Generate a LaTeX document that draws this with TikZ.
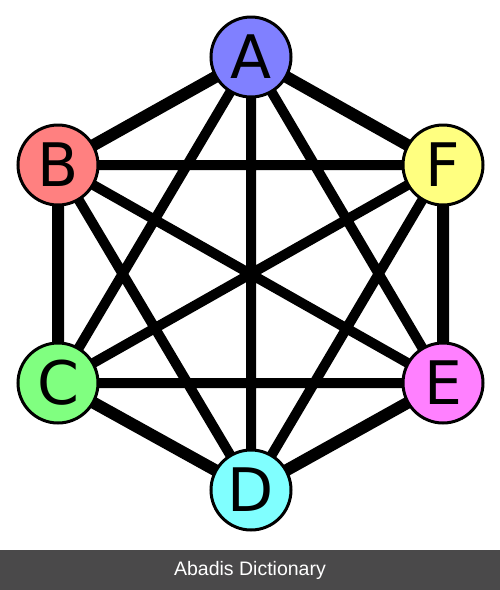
\documentclass[tikz,border=0pt]{standalone}
\usepackage{fontspec}
\setmainfont{Liberation Sans}
\newfontfamily\lettfont{DejaVu Sans}
\definecolor{banner}{HTML}{4A494A}
\begin{document}
\begin{tikzpicture}[x=1pt,y=-1pt,
  vert/.style={circle,draw=black,line width=3pt,minimum size=80pt,inner sep=0pt,font=\lettfont\fontsize{60}{60}\selectfont},
  hexedge/.style={line width=12pt},
  inedge/.style={line width=10pt}]
\useasboundingbox (0,0) rectangle (500,590);
\fill[white] (0,0) rectangle (500,550);
\fill[banner] (0,550) rectangle (500,590);
\node[text=white,font=\fontsize{19.5}{19.5}\selectfont] (banner) at (250,570) {Abadis Dictionary};
\coordinate (pA) at (251,57);
\coordinate (pB) at (58,165);
\coordinate (pF) at (443,165);
\coordinate (pC) at (58,383);
\coordinate (pE) at (443,383);
\coordinate (pD) at (251,490);
\draw[hexedge] (pA) -- (pB) -- (pC) -- (pD) -- (pE) -- (pF) -- cycle;
\draw[inedge] (pA) -- (pC) (pA) -- (pD) (pA) -- (pE)
  (pB) -- (pD) (pB) -- (pE) (pB) -- (pF)
  (pC) -- (pE) (pC) -- (pF) (pD) -- (pF);
\node[vert,fill={rgb,255:red,128;green,128;blue,255}] (A) at (pA) {A};
\node[vert,fill={rgb,255:red,255;green,128;blue,128}] (B) at (pB) {B};
\node[vert,fill={rgb,255:red,255;green,255;blue,128}] (F) at (pF) {F};
\node[vert,fill={rgb,255:red,128;green,255;blue,128}] (C) at (pC) {C};
\node[vert,fill={rgb,255:red,255;green,128;blue,255}] (E) at (pE) {E};
\node[vert,fill={rgb,255:red,128;green,255;blue,255}] (D) at (pD) {D};
\end{tikzpicture}
\end{document}
